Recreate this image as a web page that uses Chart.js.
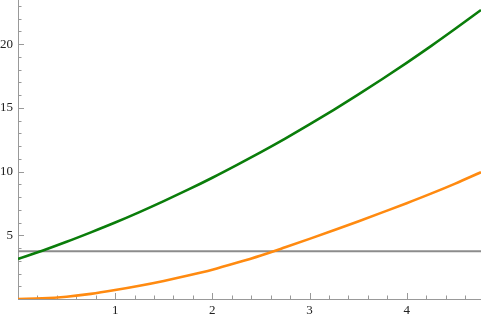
<!DOCTYPE html>
<html>
<head>
<meta charset="utf-8">
<script src="https://cdn.jsdelivr.net/npm/chart.js@4.4.0/dist/chart.umd.min.js"></script>
<style>
    html, body { margin: 0; padding: 0; background: #fff; }
    #wrap { width: 481px; height: 320px; }
</style>
</head>
<body>
<div id="wrap"><canvas id="plot"></canvas></div>
<script>
// values
const xs = [0, 0.25, 0.5, 0.75, 1, 1.25, 1.5, 1.75, 2, 2.25, 2.5, 2.75, 3, 3.25, 3.5, 3.75, 4, 4.25, 4.5, 4.765];
const greenVals = [3.14, 3.79, 4.49, 5.23, 6.0, 6.82, 7.68, 8.58, 9.52, 10.51, 11.53, 12.59, 13.7, 14.85, 16.04, 17.27, 18.54, 19.85, 21.21, 22.69];
const orangeVals = [0, 0.05, 0.18, 0.4, 0.7, 1.04, 1.42, 1.84, 2.3, 2.84, 3.42, 4.06, 4.72, 5.4, 6.09, 6.8, 7.52, 8.27, 9.06, 9.95];
const levelVal = 3.74;

const xTicks = [1, 2, 3, 4];
const yTicks = [5, 10, 15, 20];
const xMax = 4.765;
const yMax = 23.47;

function toPoints(vals) {
    return xs.map((x, i) => ({ x: x, y: vals[i] }));
}

// axes and small tick marks, drawn like the original
const axesPlugin = {
    id: "axesPlugin",
    beforeDatasetsDraw(chart) {
        const ctx = chart.ctx;
        const xs_ = chart.scales.x, ys_ = chart.scales.y;
        const x0 = xs_.getPixelForValue(0), y0 = ys_.getPixelForValue(0);
        ctx.save();
        ctx.strokeStyle = "#999";
        ctx.lineWidth = 1;
        ctx.beginPath();
        ctx.moveTo(x0 + 0.5, 0);
        ctx.lineTo(x0 + 0.5, y0);
        ctx.moveTo(x0, y0 + 0.5);
        ctx.lineTo(chart.width, y0 + 0.5);
        // y ticks
        for (let v = 1; v < yMax; v++) {
            const py = Math.round(ys_.getPixelForValue(v)) + 0.5;
            const len = v % 5 === 0 ? 6 : 3.5;
            ctx.moveTo(x0, py);
            ctx.lineTo(x0 + len, py);
        }
        // x ticks
        for (let k = 1; k * 0.2 < xMax; k++) {
            const px = Math.round(xs_.getPixelForValue(k * 0.2)) + 0.5;
            const len = k % 5 === 0 ? 6 : 3.5;
            ctx.moveTo(px, y0);
            ctx.lineTo(px, y0 - len);
        }
        ctx.stroke();
        ctx.restore();
    }
};

const labelFont = { family: "'Liberation Serif', 'DejaVu Serif', serif", size: 13 };

function noPad(s) {
    s.paddingTop = 0;
    s.paddingBottom = 0;
    s.paddingLeft = 0;
    s.paddingRight = 0;
}

new Chart(document.getElementById("plot"), {
    type: "line",
    data: {
        datasets: [
            {
                data: toPoints(greenVals),
                borderColor: "#0a7d0a",
                borderWidth: 2.6,
                pointRadius: 0,
                cubicInterpolationMode: "monotone"
            },
            {
                data: toPoints(orangeVals),
                borderColor: "#ff8a10",
                borderWidth: 2.6,
                pointRadius: 0,
                cubicInterpolationMode: "monotone"
            },
            {
                data: [{ x: 0, y: levelVal }, { x: xMax, y: levelVal }],
                borderColor: "#8c8c8c",
                borderWidth: 2,
                pointRadius: 0
            }
        ]
    },
    options: {
        responsive: true,
        maintainAspectRatio: false,
        animation: false,
        layout: { padding: 0 },
        plugins: { legend: { display: false }, tooltip: { enabled: false } },
        scales: {
            x: {
                type: "linear",
                min: 0,
                max: xMax,
                grid: { display: false, drawTicks: false },
                border: { display: false },
                afterFit: s => { s.height = 21; noPad(s); },
                afterBuildTicks: s => { s.ticks = xTicks.map(v => ({ value: v })); },
                ticks: { color: "#222", font: labelFont, padding: 4, maxRotation: 0 }
            },
            y: {
                type: "linear",
                min: 0,
                max: yMax,
                grid: { display: false, drawTicks: false },
                border: { display: false },
                afterFit: s => { s.width = 18; noPad(s); },
                afterBuildTicks: s => { s.ticks = yTicks.map(v => ({ value: v })); },
                ticks: { color: "#222", font: labelFont, padding: 5 }
            }
        }
    },
    plugins: [axesPlugin]
});
</script>
</body>
</html>
